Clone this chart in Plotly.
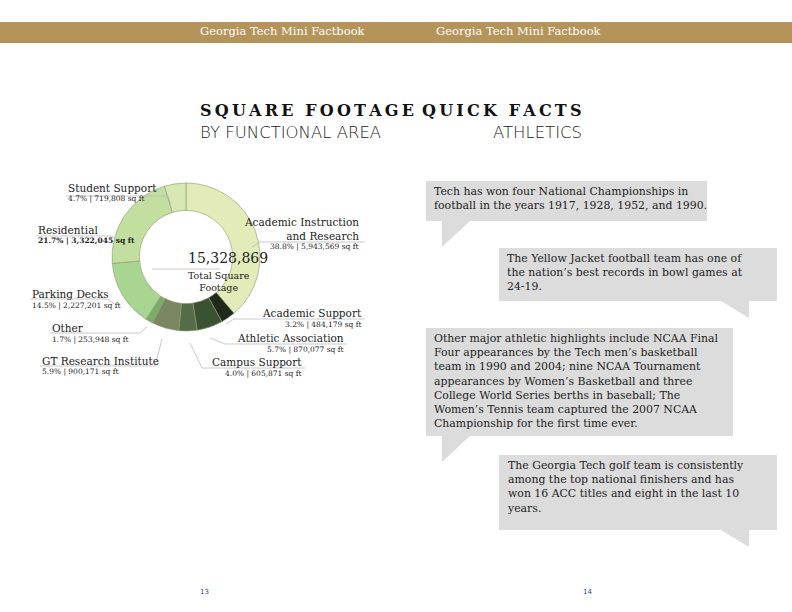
import plotly.graph_objects as go

# functional areas, clockwise from 12 o'clock
areas = ["Academic Instruction<br>and Research", "Academic Support", "Athletic Association",
         "Campus Support", "GT Research Institute", "Other", "Parking Decks",
         "Residential", "Student Support"]
sq_ft = [5943569, 484179, 870077, 605871, 900171, 253948, 2227201, 3322045, 719808]
pct_labels = ["38.8%", "3.2%", "5.7%", "4.0%", "5.9%", "1.7%", "14.5%", "21.7%", "4.7%"]
colors = ["#e3ebb9", "#1f2a1b", "#3a5232", "#566b48", "#7a8760", "#7aae68",
          "#a8d590", "#c3df9f", "#d7e8b5"]
total_sq_ft = 15328869

facts = [
    "Tech has won four National Championships in<br>football in the years 1917, 1928, 1952, and 1990.",
    "The Yellow Jacket football team has one of<br>the nation\u2019s best records in bowl games at<br>24-19.",
    "Other major athletic highlights include NCAA Final<br>Four appearances by the Tech men\u2019s basketball<br>"
    "team in 1990 and 2004; nine NCAA Tournament<br>appearances by Women\u2019s Basketball and three<br>"
    "College World Series berths in baseball; The<br>Women\u2019s Tennis team captured the 2007 NCAA<br>"
    "Championship for the first time ever.",
    "The Georgia Tech golf team is consistently<br>among the top national finishers and has<br>"
    "won 16 ACC titles and eight in the last 10<br>years.",
]

W, H = 792, 612
SERIF = "DejaVu Serif"


def px(x):
    return x / W


def py(y):
    return 1 - y / H


def spaced(s):
    return "\u2009".join(s)


fig = go.Figure()
fig.add_trace(go.Pie(
    values=sq_ft, labels=areas, hole=0.63, sort=False, direction="clockwise",
    rotation=0, marker=dict(colors=colors, line=dict(color="#8a9a70", width=0.6)),
    textinfo="none", hoverinfo="label+value", showlegend=False,
    domain=dict(x=[px(112), px(260)], y=[py(331), py(183)]),
))

shapes = []
ann = []

# header bar
shapes.append(dict(type="rect", xref="paper", yref="paper", x0=0, x1=1, y0=py(43), y1=py(22),
                   fillcolor="#b5945a", line_width=0, layer="below"))
for x in (198, 604):
    ann.append(dict(x=px(x), y=py(31), text="Georgia Tech Mini Factbook", showarrow=False,
                    yanchor="middle", font=dict(family=SERIF, size=11.5, color="white")))
for x, t in ((198, "13"), (594, "14")):
    ann.append(dict(x=px(x), y=py(592), text=t, showarrow=False, yanchor="middle",
                    font=dict(family="DejaVu Sans", size=7, color="#2a3f9a")))

# titles
for x, t1, t2 in ((198, "SQUARE FOOTAGE", "BY FUNCTIONAL AREA"),
                  (584, "QUICK FACTS", "ATHLETICS")):
    ann.append(dict(x=px(x), y=py(110), text="<b>" + spaced(t1) + "</b>", showarrow=False,
                    yanchor="middle", font=dict(family=SERIF, size=16, color="#111")))
    ann.append(dict(x=px(x), y=py(132), text=t2, showarrow=False, yanchor="middle",
                    font=dict(family="DejaVu Sans", size=16.5, color="#222", weight=300)))

# centre label
ann.append(dict(x=px(186), y=py(258), text=f"{total_sq_ft:,}", showarrow=False,
                yanchor="middle", font=dict(family=SERIF, size=14, color="#222")))
ann.append(dict(x=px(186), y=py(282), text="Total Square<br>Footage", showarrow=False,
                yanchor="middle", font=dict(family=SERIF, size=9.5, color="#222")))
shapes.append(dict(type="line", xref="paper", yref="paper", x0=px(152), x1=px(220),
                   y0=py(269), y1=py(269), line=dict(color="#bbb", width=0.8)))

# slice labels: (x, y, anchor, leader path points)
label_pos = [
    (361, 220, "right", [(365, 242), (260, 242), (252, 247)]),
    (364, 311, "right", [(365, 319), (234, 319), (226, 324)]),
    (346, 336, "right", [(347, 344), (225, 344), (210, 338)]),
    (304, 360, "right", [(305, 368), (202, 368), (190, 343)]),
    (40, 359, "left", [(40, 366), (155, 366), (162, 339)]),
    (50, 326, "left", [(50, 333), (140, 333), (147, 327)]),
    (30, 292, "left", [(30, 299), (108, 299), (114, 304)]),
    (36, 228, "left", [(36, 236), (112, 236), (118, 241)]),
    (66, 186, "left", [(66, 196), (168, 196), (171, 204)]),
]
for i, (x, y, anchor, pts) in enumerate(label_pos):
    name = areas[i]
    nlines = name.count("<br>") + 1
    ann.append(dict(x=px(x), y=py(y - 6), text=name, showarrow=False, xanchor=anchor,
                    yanchor="top", align=anchor,
                    font=dict(family=SERIF, size=10.5, color="#222")))
    sub_y = y + 13 + 13 * (nlines - 1)
    sub = f"{pct_labels[i]} | {sq_ft[i]:,} sq ft"
    if i == 7:
        sub = f"<b>{sub}</b>"
    ann.append(dict(x=px(x), y=py(sub_y), text=sub, showarrow=False, xanchor=anchor,
                    yanchor="middle", font=dict(family=SERIF, size=7.5, color="#222")))
    path = "M " + " L ".join(f"{px(a)},{py(b)}" for a, b in pts)
    shapes.append(dict(type="path", xref="paper", yref="paper", path=path,
                       line=dict(color="#bbbbbb", width=0.8)))

# speech bubbles: (x0, y0, x1, y1, tail side)
boxes = [(426, 181, 707, 221, "left"), (499, 248, 777, 301, "right"),
         (426, 328, 733, 436, "left"), (499, 455, 777, 530, "right")]
for (x0, y0, x1, y1, side), text in zip(boxes, facts):
    shapes.append(dict(type="rect", xref="paper", yref="paper", x0=px(x0), x1=px(x1),
                       y0=py(y1), y1=py(y0), fillcolor="#dcdcdc", line_width=0, layer="below"))
    if side == "left":
        tail = [(x0 + 16, y1), (x0 + 44, y1), (x0 + 16, y1 + 26)]
    else:
        tail = [(x1 - 56, y1), (x1 - 28, y1), (x1 - 28, y1 + 17)]
    path = "M " + " L ".join(f"{px(a)},{py(b)}" for a, b in tail) + " Z"
    shapes.append(dict(type="path", xref="paper", yref="paper", path=path,
                       fillcolor="#dcdcdc", line_width=0, layer="below"))
    ann.append(dict(x=px(x0 + 6), y=py(y0 + 2), text=text, showarrow=False, xanchor="left",
                    yanchor="top", align="left",
                    font=dict(family=SERIF, size=10.9, color="#222")))

fig.update_layout(width=W, height=H, margin=dict(l=0, r=0, t=0, b=0),
                  paper_bgcolor="white", plot_bgcolor="white",
                  shapes=shapes, annotations=ann)
fig.write_html("out.html", config={"displayModeBar": False},
               post_script="document.body.style.margin='0px';document.body.style.overflow='hidden';")
